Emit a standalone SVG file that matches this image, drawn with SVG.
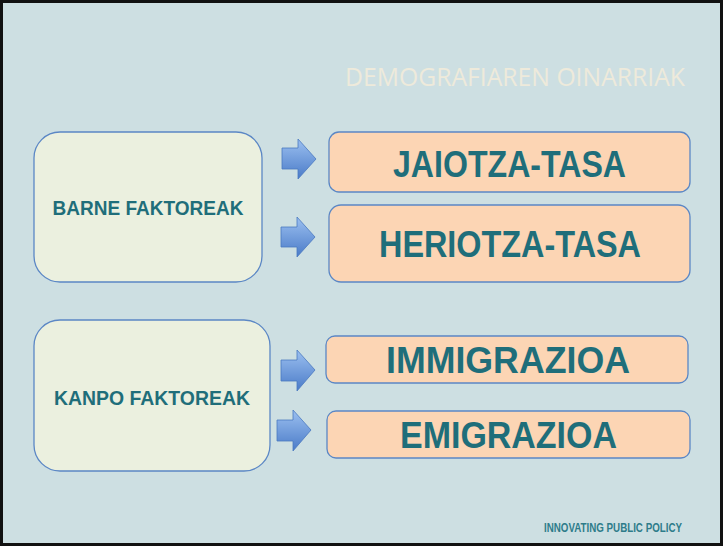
<svg xmlns="http://www.w3.org/2000/svg" width="723" height="546" viewBox="0 0 723 546">
<style>
.bg{fill:#cddfe2;stroke:#111;stroke-width:3}
.left{fill:#ebf0df;stroke:#5b87c5;stroke-width:1.3}
.right{fill:#fcd5b4;stroke:#5b87c5;stroke-width:1.3}
.t{font-family:"Liberation Sans",Arial,sans-serif;font-weight:bold;fill:#1f6e7a;text-anchor:middle}
.big{font-size:36px}
.mid{font-size:20px}
.title{font-family:"Open Sans","Liberation Sans",sans-serif;font-size:25px;fill:#eeeadb}
.foot{font-family:"Liberation Sans",Arial,sans-serif;font-weight:bold;font-size:12px;fill:#2e7c8a}
.arr{fill:url(#g);stroke:#4a78c0;stroke-width:0.8}
</style>
<defs>
<linearGradient id="g" x1="0" y1="0" x2="0" y2="1">
<stop offset="0" stop-color="#9cc0f0"/>
<stop offset="1" stop-color="#4a7bc8"/>
</linearGradient>
</defs>
<rect class="bg" x="1.5" y="1.5" width="720" height="543"/>
<text class="title" x="345" y="86" textLength="340" lengthAdjust="spacingAndGlyphs">DEMOGRAFIAREN OINARRIAK</text>
<g id="barne"><rect class="left" x="34" y="132" width="228" height="150" rx="26"/><text class="t mid" x="148" y="215" textLength="191" lengthAdjust="spacingAndGlyphs">BARNE FAKTOREAK</text></g>
<g id="kanpo"><rect class="left" x="34" y="320" width="236" height="151" rx="26"/><text class="t mid" x="152" y="405" textLength="196" lengthAdjust="spacingAndGlyphs">KANPO FAKTOREAK</text></g>
<g id="jaiotza"><rect class="right" x="329" y="132" width="361" height="60" rx="10"/><text class="t big" x="509.5" y="177" textLength="233" lengthAdjust="spacingAndGlyphs">JAIOTZA-TASA</text></g>
<g id="heriotza"><rect class="right" x="329" y="205" width="361" height="77" rx="12"/><text class="t big" x="510" y="257" textLength="262" lengthAdjust="spacingAndGlyphs">HERIOTZA-TASA</text></g>
<g id="immigrazioa"><rect class="right" x="326" y="336" width="362" height="47" rx="9"/><text class="t big" x="508" y="373" textLength="244" lengthAdjust="spacingAndGlyphs">IMMIGRAZIOA</text></g>
<g id="emigrazioa"><rect class="right" x="327" y="411" width="363" height="47" rx="9"/><text class="t big" x="508.5" y="448" textLength="217" lengthAdjust="spacingAndGlyphs">EMIGRAZIOA</text></g>
<g id="connectors">
<path class="arr" d="M282,148 H298 V139 L316,159 L298,179 V169 H282 Z"/>
<path class="arr" d="M281,227 H297 V217 L315,237 L297,257 V247 H281 Z"/>
<path class="arr" d="M281,360 H297 V350 L315,370 L297,391 V381 H281 Z"/>
<path class="arr" d="M277,420 H293 V410 L311,430 L293,451 V441 H277 Z"/>
</g>
<text class="foot" x="544" y="532" textLength="138" lengthAdjust="spacingAndGlyphs">INNOVATING PUBLIC POLICY</text>
</svg>
